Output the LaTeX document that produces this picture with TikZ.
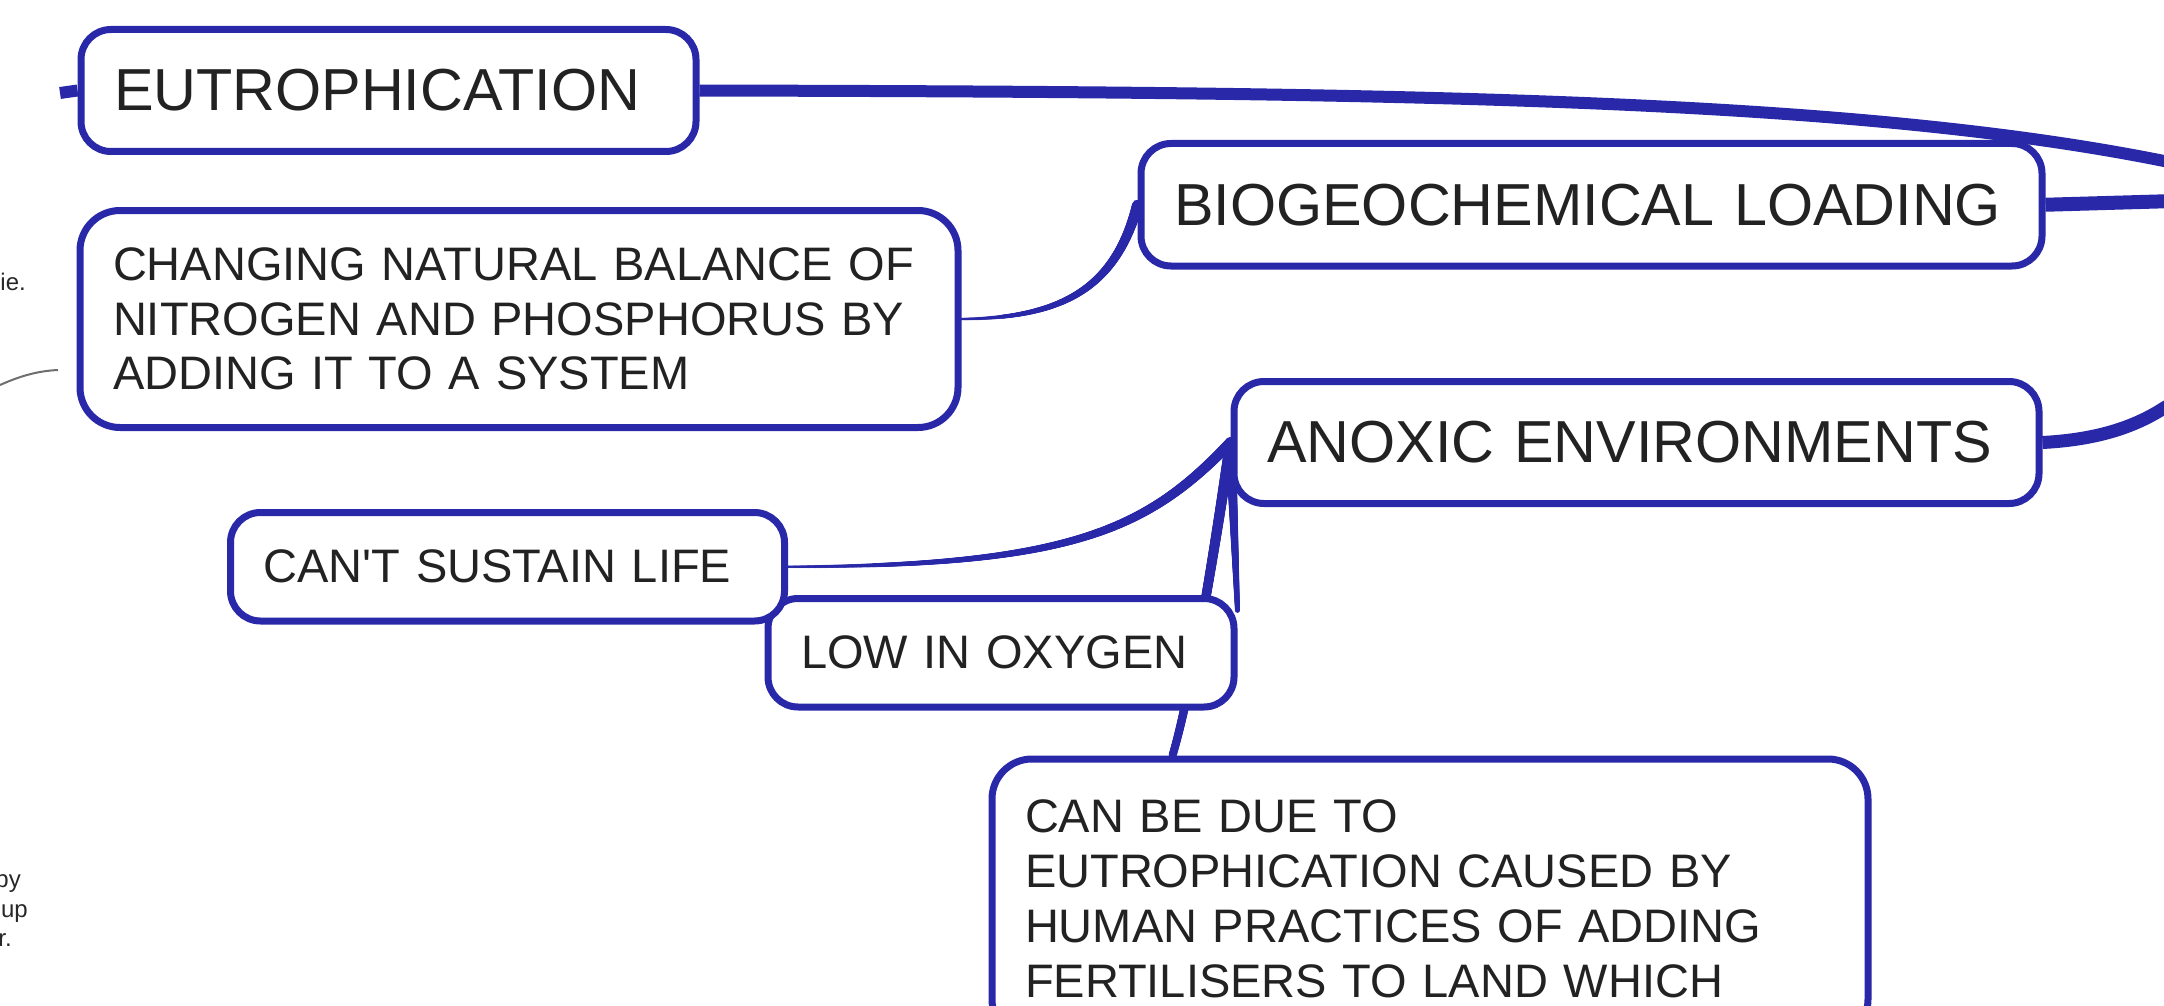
\documentclass[tikz,border=0pt]{standalone}
\usepackage{fontspec}
\setmainfont{Liberation Sans}
\usetikzlibrary{decorations.markings,calc}
\pgfdeclarelayer{paper}
\pgfdeclarelayer{links}
\pgfsetlayers{paper,links,main}
\definecolor{mmblue}{RGB}{40,40,168}
\definecolor{txt}{RGB}{34,34,34}
\definecolor{fragc}{RGB}{40,40,40}
\definecolor{curvec}{RGB}{110,110,110}
\tikzset{
  box/.style={draw=mmblue, line width=7pt, fill=white, rounded corners=30pt,
    inner xsep=33pt, inner ysep=0pt, align=left, text=txt},
  bigfont/.style={font=\fontsize{59.3}{68}\selectfont},
  smallfont/.style={font=\fontsize{47}{54.5}\selectfont},
  conn/.style={draw=mmblue, line cap=butt},
  taper/.style 2 args={postaction={decorate, decoration={markings,
    mark=between positions 0 and 1 step 0.7pt with {%
      \pgfmathsetmacro\tr{0.5*(#1+(#2-#1)*\pgfkeysvalueof{/pgf/decoration/mark info/distance from start}/\pgfdecoratedpathlength)}%
      \fill[mmblue] (0pt,0pt) circle[radius=\tr pt];}}}},
  fragtext/.style={font=\fontsize{24}{28}\selectfont, text=fragc, inner sep=0pt},
}
\begin{document}
\begin{tikzpicture}[x=1pt,y=-1pt]
\useasboundingbox (0,0) rectangle (2164,1006);
\begin{pgfonlayer}{paper}
\fill[white] (0,0) rectangle (2164,1006);
\end{pgfonlayer}

% boxes
\node[box, bigfont, minimum width=615pt, minimum height=122pt, text width=549pt] (eut) at (388.5,90.5) {EUTROPHICATION};
\node[box, smallfont, rounded corners=40pt, minimum width=878pt, minimum height=217pt, text width=812pt] (chg) at (519,319)
  {CHANGING NATURAL BALANCE OF\\NITROGEN AND PHOSPHORUS BY\\ADDING IT TO A SYSTEM};
\node[box, bigfont, minimum width=901pt, minimum height=122.5pt, text width=835pt] (bio) at (1591.5,204.75) {BIOGEOCHEMICAL LOADING};
\node[box, bigfont, minimum width=805pt, minimum height=122pt, text width=739pt] (ano) at (1636.5,442.5) {ANOXIC ENVIRONMENTS};
\node[box, font=\fontsize{47}{55}\selectfont, rounded corners=40pt, anchor=north, minimum width=876pt, text width=810pt, inner ysep=41pt] (canbe) at (1430,755.5)
  {CAN BE DUE TO\\EUTROPHICATION CAUSED BY\\HUMAN PRACTICES OF ADDING\\FERTILISERS TO LAND WHICH};
\node[box, smallfont, minimum width=466pt, minimum height=108.5pt, text width=400pt] (low) at (1001,652.75) {LOW IN OXYGEN};
\node[box, smallfont, minimum width=554pt, minimum height=108.5pt, text width=488pt] (cant) at (507.5,566.75) {CAN\textquotesingle T SUSTAIN LIFE};

% free ends
\coordinate (stubL) at (60,93);
\coordinate (rt1) at (2164,161);
\coordinate (rt1b) at (2200,168);
\coordinate (rt2) at (2175,201);
\coordinate (rt3) at (2164,408);
\coordinate (rt3b) at (2190,393);
\coordinate (cbtop) at ($(canbe.north west)+(184,0)$);
\coordinate (lowtop) at ($(low.north east)+(0,16)$);

\begin{pgfonlayer}{links}
\draw[conn, line width=12pt] (stubL) -- (eut.west);
\draw[conn, line width=12pt] (eut.east) .. controls (1400,92) and (1850,98) .. (rt1) -- (rt1b);
\draw[conn, line width=14pt] (bio.east) -- (rt2);
\draw[conn, line width=13pt] (ano.east) .. controls (2090,440) and (2130,430) .. (rt3) -- (rt3b);
\path[taper={2.5}{11}] (chg.east) .. controls (1060,318) and (1115,290) .. (bio.west);
\path[taper={2.5}{11}] (cant.east) .. controls (1071,566) and (1147,530) .. (ano.west);
\path[taper={11}{8}] (ano.west) .. controls (1222,500) and (1195,680) .. (cbtop);
\path[taper={11}{5}] (ano.west) -- (lowtop);
\end{pgfonlayer}

% cut-off fragments at the left edge
\coordinate (g1) at (0,385);
\coordinate (g2) at (58,370);
\draw[curvec, line width=2pt] (g1) .. controls (18,377) and (36,371) .. (g2);
\node[fragtext, anchor=base east] (f1) at (26,290) {ie.};
\node[fragtext, anchor=base east] (f2) at (21,887) {by};
\node[fragtext, anchor=base east] (f3) at (28,917) {up};
\node[fragtext, anchor=base east] (f4) at (12,946) {r.};
\end{tikzpicture}
\end{document}
